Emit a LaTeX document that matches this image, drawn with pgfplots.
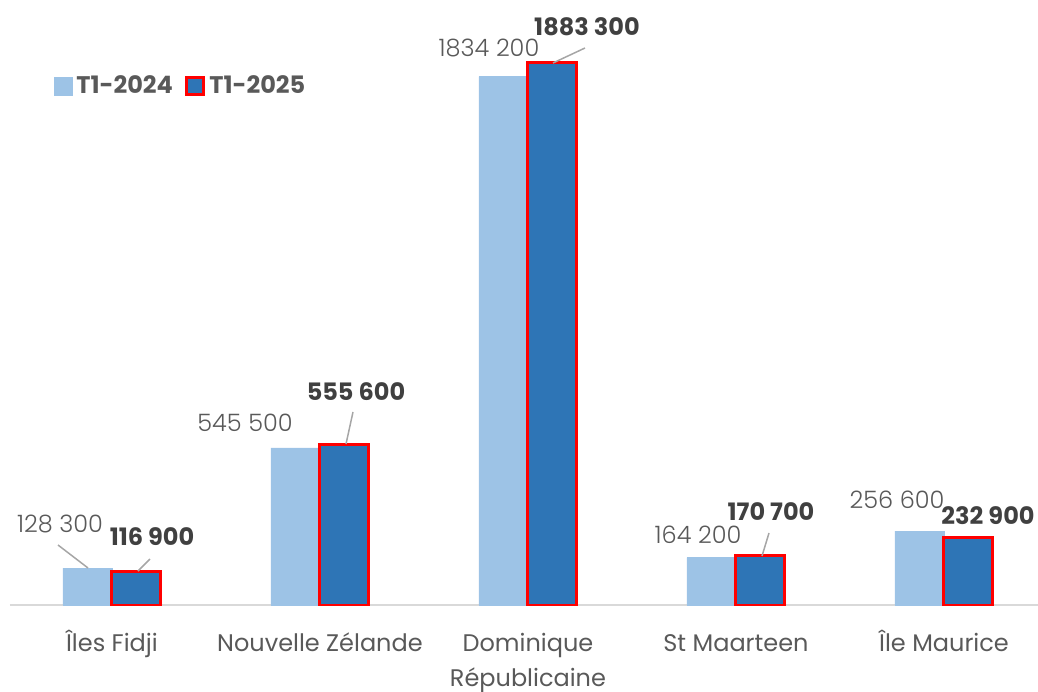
\documentclass[border=0pt]{standalone}
\usepackage{fontspec}
\setmainfont{Poppins}
\newfontfamily\lightfont{Poppins Light}
\usepackage{pgfplots}
\pgfplotsset{compat=1.18}
\definecolor{c24}{HTML}{9DC3E6}
\definecolor{c25}{HTML}{2E75B6}
\definecolor{lbl}{HTML}{595959}
\definecolor{lblb}{HTML}{404040}
\definecolor{base}{HTML}{D9D9D9}
\definecolor{lead}{HTML}{A6A6A6}
\begin{document}
\begin{tikzpicture}
\begin{axis}[
    at={(0,0)}, anchor=south west,
    scale only axis, width=514pt, height=302.5pt,
    xmin=-0.49, xmax=4.452, ymin=0, ymax=2.1e6,
    ybar=0pt, bar width=24.5pt,
    axis line style={draw=none},
    xtick={0,1,2,3,4},
    xticklabels={Îles Fidji, \vphantom{Î}Nouvelle Zélande, \vphantom{Î}Dominique\\Républicaine, \vphantom{Î}St Maarteen, Île Maurice},
    xticklabel style={font=\fontsize{12}{17.5}\selectfont, text=lbl, align=center, anchor=north, yshift=-9pt},
    ytick=\empty,
    major tick length=0pt,
    legend style={at={(0.037,0.858)}, anchor=west, draw=none, fill=none,
        legend columns=2, font=\bfseries\fontsize{12}{14}\selectfont, text=lbl,
        /tikz/every even column/.append style={column sep=4pt}},
    legend image code/.code={\path[#1] (0pt,-4.4pt) rectangle (8.8pt,4.4pt);},
]
\draw[base, line width=1pt] (rel axis cs:0,0) -- (rel axis cs:1,0);
\addplot[fill=c24, draw=c24, line width=0.2pt] coordinates {(0,128300) (1,545500) (2,1834200) (3,164200) (4,256600)};
\addlegendentry{T1-2024}
\addplot[fill=c25, draw=red, line width=1.5pt] coordinates {(0,116900) (1,555600) (2,1883300) (3,170700) (4,232900)};
\addlegendentry{T1-2025}
\end{axis}
% value labels, in picture pixel coordinates from the top-left corner
\begin{scope}[shift={(-5pt,302.5pt)}, x=0.5pt, y=-0.5pt]
\tikzset{l24/.style={font=\lightfont\fontsize{12}{14}\selectfont, text=lbl},
         l25/.style={font=\bfseries\fontsize{12}{14}\selectfont, text=lblb},
         ld/.style={draw=lead, line width=0.75pt}}
\node[l24] at (60,524) {128 300};
\node[l25] at (152,537) {116 900};
\draw[ld] (58,545) -- (88,568);
\draw[ld] (150,559) -- (138,571);
\node[l24] at (245,423) {545 500};
\node[l25] at (356,392) {555 600};
\draw[ld] (353,412) -- (346,444);
\node[l24] at (489,48) {1834 200};
\node[l25] at (587,27) {1883 300};
\draw[ld] (585,48) -- (553,63);
\node[l24] at (698,535) {164 200};
\node[l25] at (771,512) {170 700};
\draw[ld] (769,533) -- (762,556);
\node[l24] at (897,500) {256 600};
\node[l25] at (988,516) {232 900};
\pgfresetboundingbox
\path[use as bounding box] (0,0) rectangle (1038,691);
\end{scope}
\end{tikzpicture}
\end{document}
